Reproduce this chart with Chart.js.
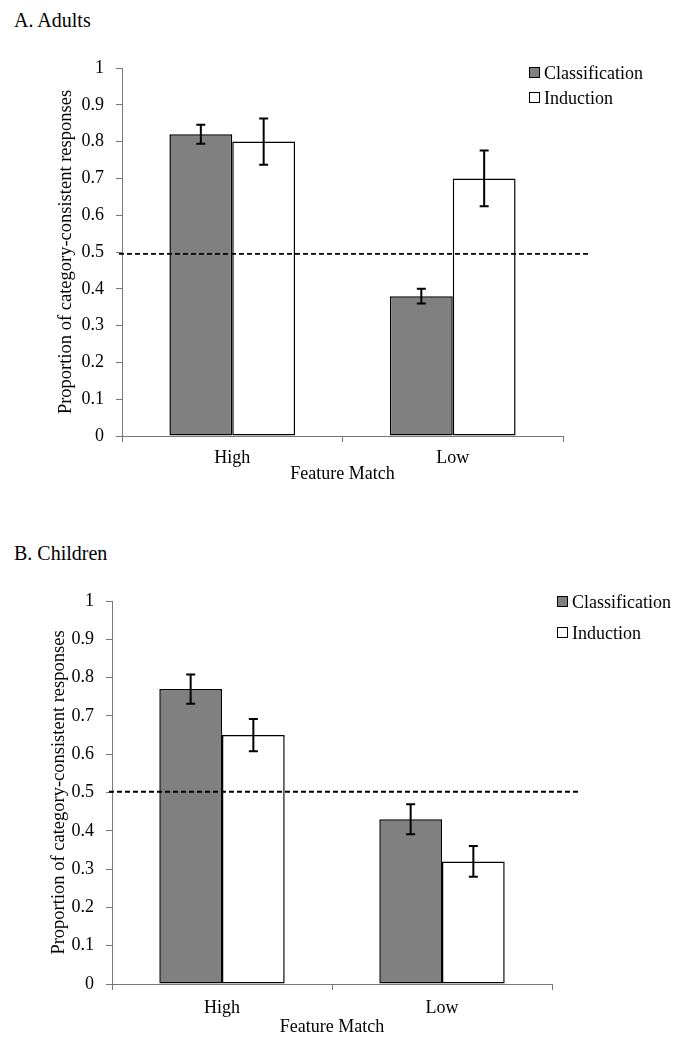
<!DOCTYPE html>
<html>
<head>
<meta charset="utf-8">
<script src="https://cdn.jsdelivr.net/npm/chart.js@4.4.1/dist/chart.umd.min.js"></script>
<style>
  body { margin: 0; background: #fff; font-family: 'Liberation Serif', 'Times New Roman', serif; color: #000; }
  .panel { position: absolute; left: 0; width: 694px; }
  .heading { position: absolute; left: 14px; font-size: 20px; line-height: 20px; }
  .legend { position: absolute; font-size: 18px; line-height: 20px; }
  .legend div { position: absolute; white-space: nowrap; }
  .legend span { display: inline-block; width: 9px; height: 9px; border: 1px solid #000; margin-right: 4px; vertical-align: 1px; }
</style>
</head>
<body>
<div class="heading" style="top:10px">A. Adults</div>
<div class="panel" style="top:0"><canvas id="adults" width="694" height="500"></canvas></div>
<div class="legend" style="left:529px; top:0">
  <div style="top:63px"><span style="background:#808080"></span>Classification</div>
  <div style="top:88px"><span style="background:#fff"></span>Induction</div>
</div>

<div class="heading" style="top:543px">B. Children</div>
<div class="panel" style="top:520px"><canvas id="children" width="694" height="528"></canvas></div>
<div class="legend" style="left:557px; top:0">
  <div style="top:592px"><span style="background:#808080"></span>Classification</div>
  <div style="top:623px"><span style="background:#fff"></span>Induction</div>
</div>

<script>
// data
const categories = ['High', 'Low'];

const adultsClassification = [0.82, 0.38];
const adultsClassificationErr = [0.026, 0.02];
const adultsInduction = [0.80, 0.70];
const adultsInductionErr = [0.063, 0.076];
const adultsChance = 0.495;

const childrenClassification = [0.77, 0.43];
const childrenClassificationErr = [0.038, 0.039];
const childrenInduction = [0.65, 0.32];
const childrenInductionErr = [0.042, 0.04];
const childrenChance = 0.502;

const FONT = 'Liberation Serif';

// error bars drawn on top of the bars
const errorBars = {
    id: 'errorBars',
    afterDatasetsDraw(chart) {
        const { ctx } = chart;
        const y = chart.scales.y;
        ctx.save();
        ctx.strokeStyle = '#000';
        ctx.lineWidth = 2;
        chart.data.datasets.forEach((ds, i) => {
            const meta = chart.getDatasetMeta(i);
            meta.data.forEach((bar, j) => {
                const v = ds.data[j], e = ds.errors[j];
                const top = y.getPixelForValue(v + e), bot = y.getPixelForValue(v - e);
                ctx.beginPath();
                ctx.moveTo(bar.x, top); ctx.lineTo(bar.x, bot);
                ctx.moveTo(bar.x - 4.5, top); ctx.lineTo(bar.x + 4.5, top);
                ctx.moveTo(bar.x - 4.5, bot); ctx.lineTo(bar.x + 4.5, bot);
                ctx.stroke();
            });
        });
        ctx.restore();
    },
};

// dashed chance line
const chanceLine = {
    id: 'chanceLine',
    afterDatasetsDraw(chart, args, opts) {
        const { ctx, chartArea } = chart;
        const yy = chart.scales.y.getPixelForValue(opts.value);
        ctx.save();
        ctx.strokeStyle = '#000';
        ctx.lineWidth = 1.8;
        ctx.setLineDash([5, 3]);
        ctx.beginPath();
        ctx.moveTo(chartArea.left - 3, yy);
        ctx.lineTo(chartArea.right + opts.extend, yy);
        ctx.stroke();
        ctx.restore();
    },
};

function makePanel(id, cls, clsErr, ind, indErr, chance, lay) {
    const el = document.getElementById(id);
    return new Chart(el, {
        type: 'bar',
        data: {
            labels: categories,
            datasets: [
                { label: 'Classification', data: cls, errors: clsErr, backgroundColor: '#808080', borderColor: '#000', borderWidth: 1.5, borderSkipped: false },
                { label: 'Induction', data: ind, errors: indErr, backgroundColor: '#fff', borderColor: '#000', borderWidth: 1.5, borderSkipped: false },
            ],
        },
        options: {
            responsive: false,
            animation: false,
            layout: { padding: { left: 0, right: lay.right, top: lay.top, bottom: 0 } },
            categoryPercentage: 0.57,
            barPercentage: 1.0,
            plugins: {
                legend: { display: false },
                tooltip: { enabled: false },
                chanceLine: { value: chance, extend: 28 },
            },
            scales: {
                x: {
                    grid: { drawOnChartArea: false, tickLength: 6, color: '#777', offset: true },
                    border: { color: '#777', width: 1 },
                    ticks: { color: '#000', padding: lay.xPad, font: { family: FONT, size: 18 } },
                    title: { display: true, text: 'Feature Match', color: '#000', padding: { top: 0, bottom: lay.xTitle }, font: { family: FONT, size: 18 } },
                    afterFit: (s) => { s.height = lay.xHeight; },
                },
                y: {
                    min: 0, max: 1,
                    grid: { drawOnChartArea: false, tickLength: 6, color: '#777' },
                    border: { color: '#777', width: 1 },
                    ticks: {
                        stepSize: 0.1, color: '#000', padding: 12, font: { family: FONT, size: 18 },
                        callback: (v) => String(Math.round(v * 10) / 10),
                    },
                    title: { display: true, text: 'Proportion of category-consistent responses', color: '#000', padding: { top: lay.yTitle, bottom: 0 }, font: { family: FONT, size: 18.5 } },
                    afterFit: (s) => { s.width = lay.yWidth; },
                },
            },
        },
        plugins: [chanceLine, errorBars],
    });
}

makePanel('adults', adultsClassification, adultsClassificationErr, adultsInduction, adultsInductionErr, adultsChance,
    { right: 131, top: 68, yWidth: 122, xHeight: 64, xPad: 5, xTitle: 15, yTitle: 55 });

makePanel('children', childrenClassification, childrenClassificationErr, childrenInduction, childrenInductionErr, childrenChance,
    { right: 142, top: 81, yWidth: 112, xHeight: 64, xPad: 7, xTitle: 10, yTitle: 48 });
</script>
</body>
</html>
